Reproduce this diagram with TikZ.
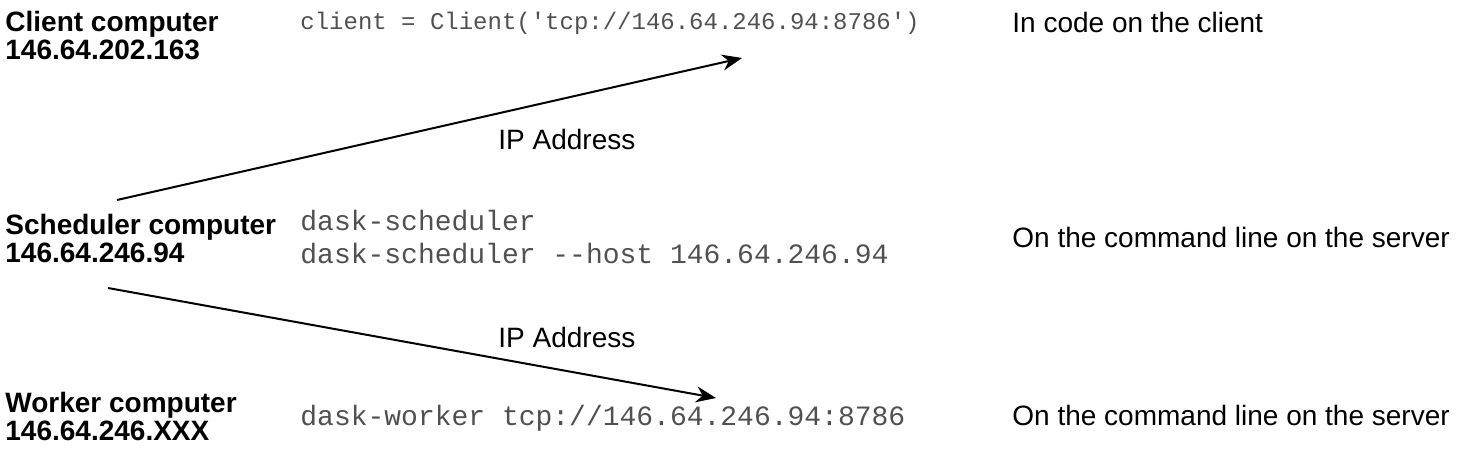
\documentclass[tikz,border=0pt]{standalone}
\usepackage{fontspec}
\setmainfont{Liberation Sans}
\newfontfamily\codefont{Liberation Mono}
\usetikzlibrary{arrows.meta,positioning,calc}
\definecolor{ink}{HTML}{000000}
\definecolor{codegray}{HTML}{505050}

\begin{document}
\begin{tikzpicture}[x=0.5pt,y=-0.5pt,
  host/.style={anchor=base west,inner sep=0pt,align=left,text=ink,font=\fontsize{14}{14}\selectfont\bfseries},
  code/.style={anchor=base west,inner sep=0pt,align=left,text=codegray,font=\fontsize{14}{16.5}\selectfont\codefont},
  note/.style={anchor=base west,inner sep=0pt,text=ink,font=\fontsize{14}{16}\selectfont},
  link/.style={-{Stealth[length=10pt,width=8pt]},line width=1pt,ink}]
  \useasboundingbox (0,0) rectangle (1468,456);
  % machines
  \node[host] (client) at (5,59) {Client computer\\146.64.202.163};
  \node[host] (sched) at (5,262) {Scheduler computer\\146.64.246.94};
  \node[host] (worker) at (5,440) {Worker computer\\146.64.246.XXX};
  % commands
  \node[code,font=\fontsize{12}{14}\selectfont\codefont] (clientcode) at (300,29) {client = Client('tcp://146.64.246.94:8786')};
  \node[code] (schedcode) at (300,263) {dask-scheduler\\dask-scheduler --host 146.64.246.94};
  \node[code] (workercode) at (300,425) {dask-worker tcp://146.64.246.94:8786};
  % where they run
  \node[note] (clientnote) at (1012,32) {In code on the client};
  \node[note] (schednote) at (1012,247) {On the command line on the server};
  \node[note] (workernote) at (1012,425) {On the command line on the server};
  % address arrows
  \coordinate (up0) at (117,200);
  \coordinate (up1) at (742,58);
  \coordinate (down0) at (108,288);
  \coordinate (down1) at (716,398);
  \draw[link] (up0) -- (up1);
  \draw[link] (down0) -- (down1);
  \node[note] (ipup) at (498,149) {IP Address};
  \node[note] (ipdown) at (498,347) {IP Address};
\end{tikzpicture}
\end{document}
